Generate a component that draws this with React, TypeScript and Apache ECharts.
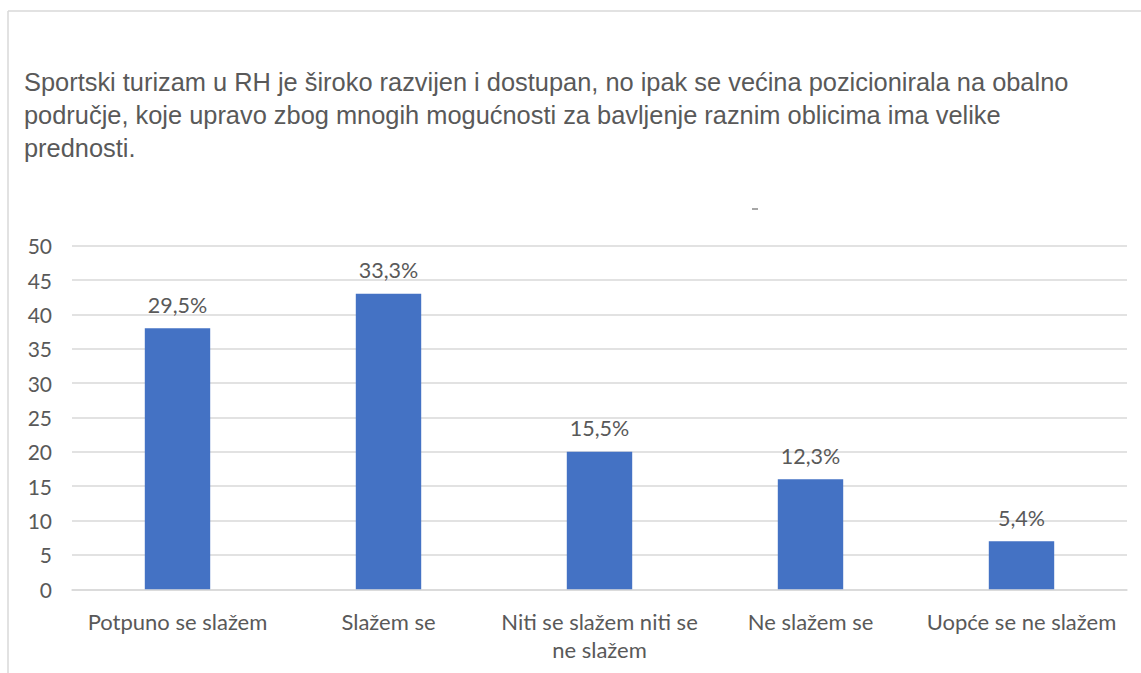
import React, { useEffect, useRef } from "react";
import * as echarts from "echarts";

const categories = [
  "Potpuno se slažem",
  "Slažem se",
  "Niti se slažem niti se\nne slažem",
  "Ne slažem se",
  "Uopće se ne slažem",
];
const values = [38, 43, 20, 16, 7];
const percentLabels = ["29,5%", "33,3%", "15,5%", "12,3%", "5,4%"];
const yTicks = { min: 0, max: 50, interval: 5 };
const titleText =
  "Sportski turizam u RH je široko razvijen i dostupan, no ipak se većina pozicionirala na obalno\n" +
  "područje, koje upravo zbog mnogih mogućnosti za bavljenje raznim oblicima ima velike\n" +
  "prednosti.";

const TEXT = "#595959";
const GRID = "#d9d9d9";

export default function App() {
  const ref = useRef<HTMLDivElement>(null);
  useEffect(() => {
    if (!ref.current) return;
    const chart = echarts.init(ref.current, undefined, { renderer: "svg" });
    chart.setOption({
      animation: false,
      backgroundColor: "#ffffff",
      title: {
        text: titleText,
        left: 24,
        top: 65,
        padding: 0,
        textStyle: {
          fontFamily: "Liberation Sans, Arial, sans-serif",
          fontSize: 25.4,
          fontWeight: "normal",
          color: TEXT,
          lineHeight: 33,
        },
      },
      grid: { left: 72, right: 14, top: 245.7, bottom: 83.7 },
      xAxis: {
        type: "category",
        data: categories,
        axisLine: { show: true, lineStyle: { color: GRID, width: 1.5 } },
        axisTick: { show: false },
        axisLabel: {
          interval: 0,
          margin: 18,
          color: TEXT,
          fontFamily: "Lato, sans-serif",
          fontSize: 22,
          lineHeight: 28,
        },
      },
      yAxis: {
        type: "value",
        min: yTicks.min,
        max: yTicks.max,
        interval: yTicks.interval,
        axisLine: { show: false },
        axisTick: { show: false },
        splitLine: { lineStyle: { color: GRID, width: 1.5 } },
        axisLabel: {
          margin: 20,
          color: TEXT,
          fontFamily: "Lato, sans-serif",
          fontSize: 21,
        },
      },
      series: [
        {
          type: "bar",
          data: values,
          barWidth: "31%",
          itemStyle: { color: "#4472C4" },
          label: {
            show: true,
            position: "top",
            distance: 13,
            color: TEXT,
            fontFamily: "Lato, sans-serif",
            fontSize: 21.5,
            lineHeight: 21,
            formatter: (p: any) => percentLabels[p.dataIndex],
          },
        },
      ],
      graphic: [
        {
          type: "line",
          shape: { x1: 8, y1: 11, x2: 1141, y2: 11 },
          style: { stroke: GRID, lineWidth: 1.5 },
          silent: true,
        },
        {
          type: "line",
          shape: { x1: 8, y1: 11, x2: 8, y2: 673 },
          style: { stroke: GRID, lineWidth: 1.5 },
          silent: true,
        },
        {
          type: "line",
          shape: { x1: 752, y1: 209, x2: 758, y2: 209 },
          style: { stroke: "#8a8a8a", lineWidth: 1.5 },
          silent: true,
        },
      ],
    });
    return () => chart.dispose();
  }, []);
  return (
    <div
      ref={ref}
      style={{ position: "fixed", left: 0, top: 0, width: 1141, height: 673 }}
    />
  );
}
